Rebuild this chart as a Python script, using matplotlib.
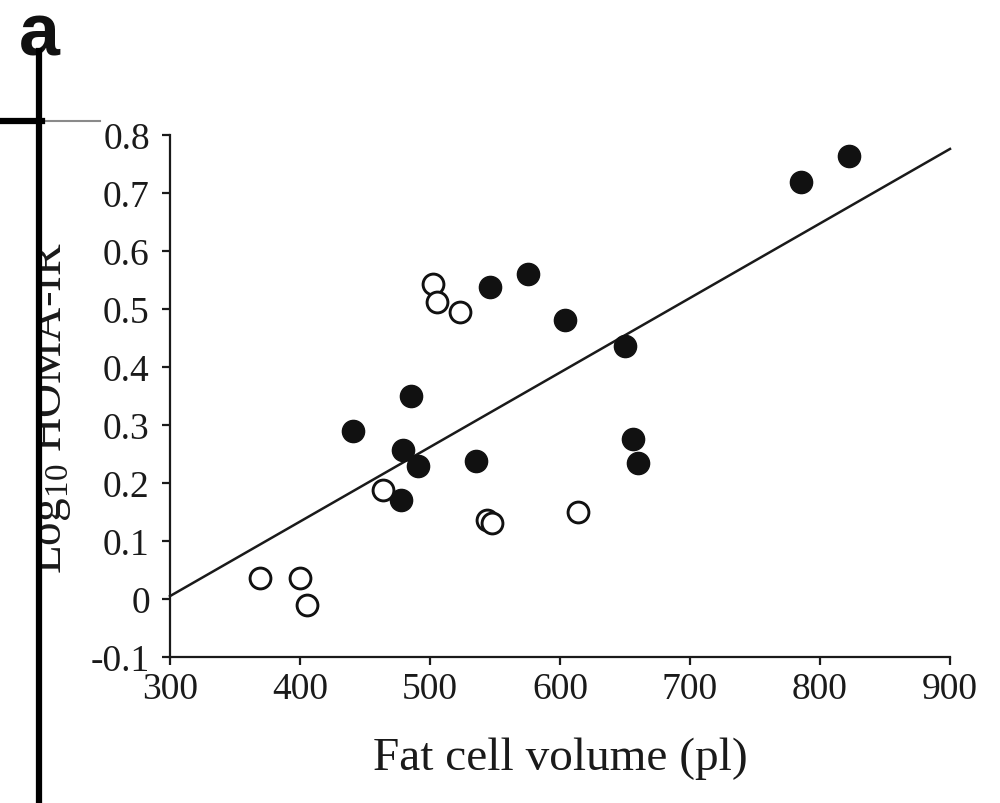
import matplotlib
matplotlib.use("Agg")
import matplotlib.pyplot as plt
from matplotlib.lines import Line2D
from matplotlib.patches import Rectangle

# ---- data ----
filled_x = [441, 479, 485, 491, 478, 535, 546, 575, 604, 650, 656, 660, 785, 822]
filled_y = [0.290, 0.257, 0.350, 0.229, 0.171, 0.238, 0.538, 0.560, 0.481, 0.436, 0.276, 0.235, 0.719, 0.764]
open_x = [369, 400, 405, 464, 502, 505, 523, 544, 548, 614]
open_y = [0.036, 0.036, -0.010, 0.188, 0.543, 0.512, 0.495, 0.136, 0.131, 0.150]
fit_x = [300, 900]
fit_y = [0.005, 0.776]
x_ticks = [300, 400, 500, 600, 700, 800, 900]
y_ticks = [-0.1, 0, 0.1, 0.2, 0.3, 0.4, 0.5, 0.6, 0.7, 0.8]
y_tick_labels = ["-0.1", "0", "0.1", "0.2", "0.3", "0.4", "0.5", "0.6", "0.7", "0.8"]

plt.rcParams['font.family'] = ['Liberation Serif', 'DejaVu Serif']
plt.rcParams['mathtext.fontset'] = 'custom'
plt.rcParams['mathtext.rm'] = 'Liberation Serif'

W, H = 1000, 804
fig = plt.figure(figsize=(W / 100, H / 100), dpi=100)
ax = fig.add_axes([170 / W, 1 - 658 / H, (950 - 170) / W, (658 - 136) / H])

ax.plot(fit_x, fit_y, color='#1a1a1a', lw=1.8, zorder=2, clip_on=False)
ax.plot(filled_x, filled_y, 'o', ms=16, mfc='#111111', mec='#111111', mew=1, zorder=3, ls='none')
ax.plot(open_x, open_y, 'o', ms=15, mfc='white', mec='#111111', mew=2.1, zorder=4, ls='none')

ax.set_xlim(300, 900)
ax.set_ylim(-0.1, 0.8)
ax.set_xticks(x_ticks)
ax.set_xticklabels([str(v) for v in x_ticks])
ax.set_yticks(y_ticks)
ax.set_yticklabels(y_tick_labels)
for s in ['top', 'right']:
    ax.spines[s].set_visible(False)
for s in ['left', 'bottom']:
    ax.spines[s].set_linewidth(1.6)
    ax.spines[s].set_color('#1a1a1a')
ax.tick_params(axis='both', direction='out', length=5.5, width=1.6, color='#1a1a1a',
               labelsize=27, labelcolor='#1a1a1a')
ax.tick_params(axis='y', pad=9)
ax.tick_params(axis='x', pad=5)

ax.set_xlabel('Fat cell volume (pl)', fontsize=34, color='#1a1a1a', labelpad=22)

# rotated y label, partly hidden by the binding line
fig.text(61 / W, 1 - 408 / H, r'Log$_{\mathrm{10}}$ HOMA-IR', rotation=90,
         rotation_mode='anchor', ha='center', va='baseline', fontsize=34,
         color='#1a1a1a', zorder=3)
# white margin hiding the part of the label left of the binding line
fig.add_artist(Rectangle((0, 1 - 620 / H), 38 / W, 420 / H, transform=fig.transFigure,
                         facecolor='white', edgecolor='none', zorder=5))

# panel letter
fig.text(19 / W, 1 - 2 / H, 'a', fontsize=53, fontweight='bold',
         family=['Liberation Sans', 'DejaVu Sans'], ha='left', va='top', color='#111111')

# decorative lines at the left
fig.add_artist(Line2D([39 / W, 39 / W], [1 - 52 / H, 0], transform=fig.transFigure,
                      color='black', lw=4.5, zorder=10))
fig.add_artist(Line2D([0, 42 / W], [1 - 122 / H, 1 - 122 / H], transform=fig.transFigure,
                      color='black', lw=4.5, zorder=10))
fig.add_artist(Line2D([42 / W, 100 / W], [1 - 122 / H, 1 - 122 / H], transform=fig.transFigure,
                      color='#8a8a8a', lw=1.5, zorder=9))

fig.savefig('out.png', dpi=100)
